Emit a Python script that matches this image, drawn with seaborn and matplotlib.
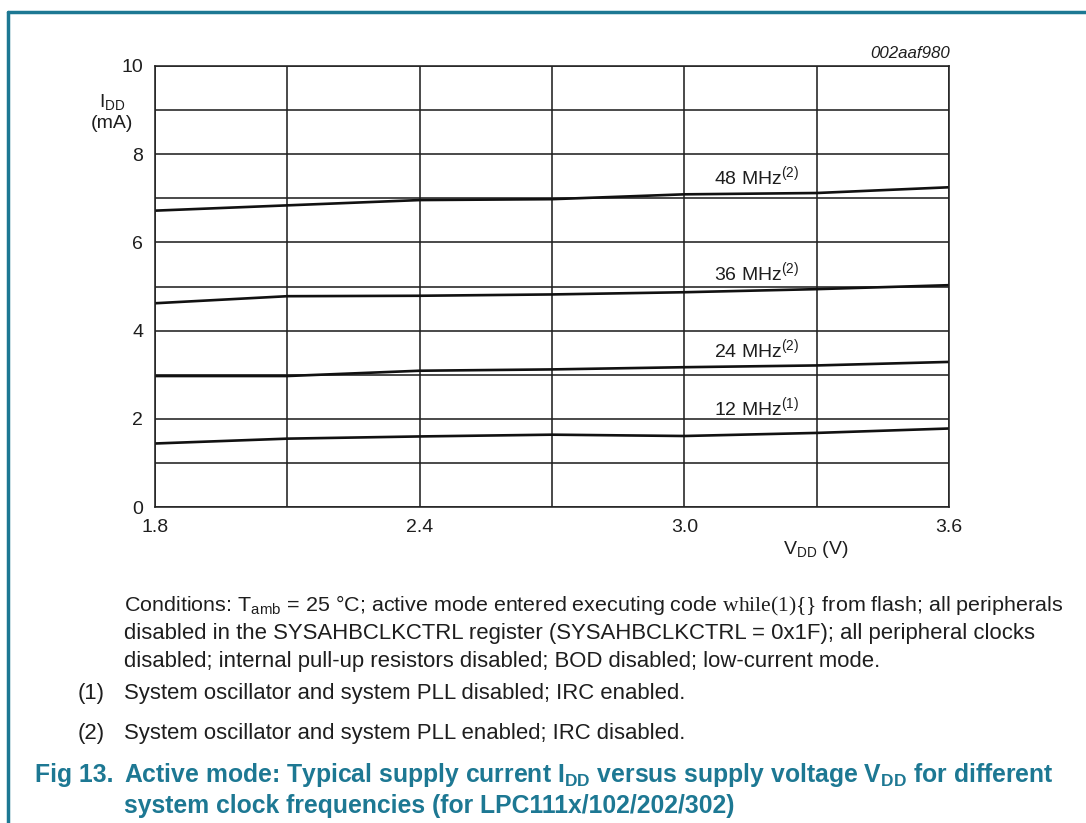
import matplotlib
matplotlib.use("Agg")
import matplotlib.pyplot as plt
import seaborn as sns
import pandas as pd
from matplotlib.lines import Line2D

sns.set_theme(style="white")
plt.rcParams['font.family'] = ['Liberation Sans', 'DejaVu Sans']
plt.rcParams['mathtext.fontset'] = 'custom'
plt.rcParams['mathtext.rm'] = 'Liberation Serif'
plt.rcParams['mathtext.it'] = 'Liberation Serif:italic'
plt.rcParams['mathtext.bf'] = 'Liberation Serif:bold'

# ---- data ----
vdd = [1.8, 2.1, 2.4, 2.7, 3.0, 3.3, 3.6]
idd_48 = [6.72, 6.84, 6.96, 6.98, 7.09, 7.12, 7.25]
idd_36 = [4.62, 4.78, 4.79, 4.82, 4.87, 4.94, 5.03]
idd_24 = [2.97, 2.97, 3.09, 3.12, 3.17, 3.21, 3.29]
idd_12 = [1.44, 1.55, 1.60, 1.64, 1.61, 1.68, 1.78]
series_names = ["48 MHz", "36 MHz", "24 MHz", "12 MHz"]
series_notes = ["(2)", "(2)", "(2)", "(1)"]
label_y = [7.5, 5.33, 3.58, 2.27]
x_ticks = [1.8, 2.4, 3.0, 3.6]
y_ticks = [0, 2, 4, 6, 8, 10]

rows = []
for name, vals in zip(series_names, [idd_48, idd_36, idd_24, idd_12]):
    for v, i in zip(vdd, vals):
        rows.append({"VDD": v, "IDD": i, "freq": name})
df = pd.DataFrame(rows)

teal = "#1d7893"
ink = "#1e1e1e"

fig = plt.figure(figsize=(10.86, 8.23), dpi=100)
ax = fig.add_axes([155/1086, 1-507/823, (949-155)/1086, (507-66)/823])

sns.lineplot(data=df, x="VDD", y="IDD", hue="freq",
             palette=["#111111"]*4, linewidth=1.9, legend=False, ax=ax)

ax.set_xlim(1.8, 3.6)
ax.set_ylim(0, 10)
ax.set_xticks(x_ticks)
ax.set_xticklabels([f"{t:.1f}" for t in x_ticks])
ax.set_yticks(y_ticks)
ax.set_yticklabels([str(t) for t in y_ticks])
ax.set_xticks([1.8 + 0.3*k for k in range(7)], minor=True)
ax.set_yticks(list(range(11)), minor=True)
ax.grid(True, which="both", color="#222222", linewidth=1.15)
ax.tick_params(axis="both", which="both", length=0, labelsize=14, colors=ink)
ax.tick_params(axis="y", pad=8.5)
ax.tick_params(axis="x", pad=9)
for s in ax.spines.values():
    s.set_color("#222222")
    s.set_linewidth(1.15)
ax.set_xlabel("")
ax.set_ylabel("")

for name, note, ly in zip(series_names, series_notes, label_y):
    ax.text(3.165, ly, name + r"$\mathregular{^{" + note + "}}$", fontsize=14,
            color=ink, ha="center", va="center")

fig.text(112/1086, 1-112/823, r"$\mathregular{I_{DD}}$" + "\n(mA)", fontsize=14,
         ha="center", va="center", color=ink, linespacing=1.2)
fig.text(816/1086, 1-549/823, r"$\mathregular{V_{DD}}$ (V)", fontsize=14,
         ha="center", va="center", color=ink)
fig.text(950/1086, 1-54/823, "002aaf980", fontsize=12.2, style="italic",
         ha="right", va="center", color=ink)

# caption
cap_fs = 15.9
fig.text(124/1086, 1-606/823,
         r"Conditions: $\mathregular{T_{amb}}$ = 25 °C; active mode entered executing code $\mathrm{while(1)\{\}}$ from flash; all peripherals",
         fontsize=15.45, ha="left", va="center", color=ink)
fig.text(124/1086, 1-634/823,
         "disabled in the SYSAHBCLKCTRL register (SYSAHBCLKCTRL = 0x1F); all peripheral clocks",
         fontsize=cap_fs, ha="left", va="center", color=ink)
fig.text(124/1086, 1-661/823,
         "disabled; internal pull-up resistors disabled; BOD disabled; low-current mode.",
         fontsize=cap_fs, ha="left", va="center", color=ink)
fig.text(78/1086, 1-693/823, "(1)", fontsize=cap_fs, ha="left", va="center", color=ink)
fig.text(124/1086, 1-693/823, "System oscillator and system PLL disabled; IRC enabled.",
         fontsize=cap_fs, ha="left", va="center", color=ink)
fig.text(78/1086, 1-733/823, "(2)", fontsize=cap_fs, ha="left", va="center", color=ink)
fig.text(124/1086, 1-733/823, "System oscillator and system PLL enabled; IRC disabled.",
         fontsize=cap_fs, ha="left", va="center", color=ink)

title_fs = 17.8
fig.text(35/1086, 1-775/823, "Fig 13.", fontsize=title_fs, fontweight="bold",
         ha="left", va="center", color=teal)
fig.text(124/1086, 1-775/823,
         r"Active mode: Typical supply current $\mathregular{I_{DD}}$ versus supply voltage $\mathregular{V_{DD}}$ for different",
         fontsize=title_fs, fontweight="bold", ha="left", va="center", color=teal)
fig.text(124/1086, 1-806/823,
         "system clock frequencies (for LPC111x/102/202/302)",
         fontsize=title_fs, fontweight="bold", ha="left", va="center", color=teal)

# frame
fig.add_artist(Line2D([7.5/1086, 7.5/1086], [0, 1-12/823], transform=fig.transFigure,
                      color=teal, linewidth=2.5))
fig.add_artist(Line2D([7.5/1086, 1], [1-12/823, 1-12/823], transform=fig.transFigure,
                      color=teal, linewidth=2.5))

fig.savefig("out.png", dpi=100)
